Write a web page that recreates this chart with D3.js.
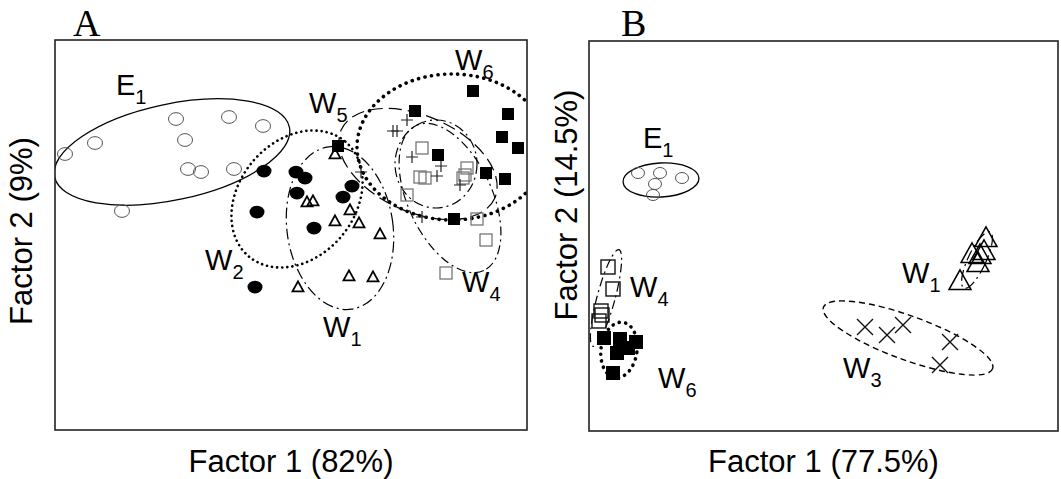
<!DOCTYPE html>
<html>
<head>
<meta charset="utf-8">
<script src="https://cdn.jsdelivr.net/npm/d3@7"></script>
<style>
body { margin: 0; background: #fff; }
text { font-family: "Liberation Sans", Arial, Helvetica, sans-serif; fill: #000; }
</style>
</head>
<body>
<div id="chart"></div>
<script>
// factor scores, arbitrary units (x right, y up)

// ---- Panel A ----
const aE1 = [[10,276],[40,287],[121,311],[174,313],[208,304],[130,290],[133,261],[146,258],[179,261],[67,219]];
const aW2 = [[209,259],[241,258],[250,252],[242,237],[202,218],[259,202],[297,244],[288,233],[200,143]];
const aW1 = [[280,275],[252,227],[258,228],[295,219],[280,208],[304,206],[325,195],[294,153],[318,152],[243,142]];
const aW6 = [[418,339],[453,316],[447,293],[463,282],[383,275],[431,257],[450,251],[399,211],[360,319],[283,284]];
const aW4 = [[367,282],[365,253],[370,252],[352,235],[412,262],[410,255],[408,252],[422,211],[431,190],[391,157]];
const aW5 = [[352,310],[338,299],[342,299],[357,273],[386,264],[382,254],[405,245],[367,213],[306,258]];

// confidence ellipses: centre, semi-axes, angle (deg, counter-clockwise)
const aEllipses = [
  {name: "E1", cx: 117, cy: 278, rx: 120, ry: 48, angle: 12},
  {name: "W2", cx: 242, cy: 231, rx: 75, ry: 58, angle: 50},
  {name: "W1", cx: 285, cy: 202, rx: 53, ry: 82, angle: 8},
  {name: "W5", cx: 363, cy: 266, rx: 84, ry: 48, angle: -24},
  {name: "W4", cx: 395, cy: 232, rx: 80, ry: 42, angle: -65},
  {name: "W4b", cx: 381, cy: 266, rx: 41, ry: 44, angle: 0},
  {name: "W6", cx: 397, cy: 283, rx: 95, ry: 73, angle: 0}
];
const aLabels = [
  {main: "E", sub: "1", x: 61, y: 335},
  {main: "W", sub: "5", x: 254, y: 317},
  {main: "W", sub: "6", x: 400, y: 360},
  {main: "W", sub: "2", x: 150, y: 160},
  {main: "W", sub: "1", x: 268, y: 93},
  {main: "W", sub: "4", x: 407, y: 138}
];

// ---- Panel B ----
const bE1 = [[49,258],[71,258],[66,247],[93,253],[64,236]];
const bW4 = [[19,164],[24,142],[12,120],[13,116],[10,110]];
const bW6 = [[15,93],[31,92],[47,89],[39,83],[28,78],[24,58]];
const bW1 = [[397,191],[383,175],[391,174],[389,166],[395,178],[371,148]];
const bW3 = [[276,104],[298,96],[314,106],[361,89],[351,66]];

const bEllipses = [
  {name: "E1", cx: 72, cy: 251, rx: 38, ry: 17, angle: 3},
  {name: "W4", cx: 17, cy: 133, rx: 9, ry: 50, angle: -15},
  {name: "W6", cx: 30, cy: 81, rx: 18, ry: 28, angle: -8},
  {name: "W1", cx: 388, cy: 171, rx: 9, ry: 31, angle: -25},
  {name: "W3", cx: 319, cy: 93, rx: 90, ry: 22, angle: -20}
];
const bLabels = [
  {main: "E", sub: "1", x: 54, y: 283},
  {main: "W", sub: "4", x: 41, y: 134},
  {main: "W", sub: "6", x: 69, y: 43},
  {main: "W", sub: "3", x: 254, y: 53},
  {main: "W", sub: "1", x: 313, y: 148}
];

const lineStyle = {
  E1:  {dash: null, width: 1.3, cap: "butt"},
  W1:  {dash: "11,4,2,4", width: 1.2, cap: "butt"},
  W2:  {dash: "0.1,5", width: 2.6, cap: "round"},
  W3:  {dash: "6,4", width: 1.4, cap: "butt"},
  W4:  {dash: "9,4,2,4", width: 1.2, cap: "butt"},
  W4b: {dash: "10,4,2,4", width: 1.2, cap: "butt"},
  W5:  {dash: "13,6", width: 1.2, cap: "butt"},
  W6:  {dash: "0.1,6.5", width: 3.6, cap: "round"}
};

const svg = d3.select("#chart").append("svg")
  .attr("width", 1061)
  .attr("height", 479);

function makePanel(id, box, letter, xTitle, yTitle) {
  const x = d3.scaleLinear().domain([0, box.x1 - box.x0]).range([box.x0, box.x1]);
  const y = d3.scaleLinear().domain([0, box.y1 - box.y0]).range([box.y1, box.y0]);

  svg.append("clipPath").attr("id", "clip" + id)
    .append("rect")
    .attr("x", box.x0).attr("y", box.y0)
    .attr("width", box.x1 - box.x0).attr("height", box.y1 - box.y0);

  const g = svg.append("g").attr("clip-path", "url(#clip" + id + ")");

  // panel letter
  svg.append("text")
    .attr("x", box.letterX).attr("y", 36)
    .style("font-family", "'Liberation Serif', 'Times New Roman', serif")
    .style("font-size", "38px")
    .text(letter);

  svg.append("text")
    .attr("x", (box.x0 + box.x1) / 2).attr("y", 472)
    .attr("text-anchor", "middle")
    .style("font-size", "31px")
    .text(xTitle);

  svg.append("text")
    .attr("transform", `translate(${box.yTitleX},${box.yTitleY}) rotate(-90)`)
    .attr("text-anchor", "middle")
    .style("font-size", "31px")
    .text(yTitle);

  return {x, y, g, box};
}

function drawEllipses(p, list) {
  const k = p.x(1) - p.x(0);
  p.g.append("g").selectAll("ellipse")
    .data(list)
    .join("ellipse")
    .attr("transform", d => `translate(${p.x(d.cx)},${p.y(d.cy)}) rotate(${-d.angle})`)
    .attr("rx", d => d.rx * k)
    .attr("ry", d => d.ry * k)
    .attr("fill", "none")
    .attr("stroke", "#000")
    .attr("stroke-width", d => lineStyle[d.name].width)
    .attr("stroke-dasharray", d => lineStyle[d.name].dash)
    .attr("stroke-linecap", d => lineStyle[d.name].cap);
}

function drawPoints(p, pts, kind, s) {
  const gs = p.g.append("g").selectAll("g")
    .data(pts)
    .join("g")
    .attr("transform", d => `translate(${p.x(d[0])},${p.y(d[1])})`);

  if (kind === "circleOpen" || kind === "circleFilled") {
    gs.append("ellipse")
      .attr("rx", s).attr("ry", s * 0.85)
      .attr("fill", kind === "circleFilled" ? "#000" : "#fff")
      .attr("fill-opacity", kind === "circleFilled" ? 1 : 0)
      .attr("stroke", kind === "circleFilled" ? "none" : "#555")
      .attr("stroke-width", 1);
  } else if (kind === "triangle") {
    const h = s * 0.9;
    gs.append("path")
      .attr("d", `M0,${-h * 2 / 3}L${s / 2},${h / 3}L${-s / 2},${h / 3}Z`)
      .attr("fill", "none")
      .attr("stroke", "#000")
      .attr("stroke-width", s > 14 ? 1.5 : 1.8);
  } else if (kind === "squareFilled") {
    gs.append("rect")
      .attr("x", -s / 2).attr("y", -s / 2)
      .attr("width", s).attr("height", s)
      .attr("fill", "#000");
  } else if (kind === "squareGrey" || kind === "squareOpen") {
    gs.append("rect")
      .attr("x", -s / 2).attr("y", -s / 2)
      .attr("width", s).attr("height", s)
      .attr("fill", "none")
      .attr("stroke", kind === "squareGrey" ? "#777" : "#111")
      .attr("stroke-width", kind === "squareGrey" ? 1.3 : 1.4);
  } else if (kind === "plus") {
    gs.append("path")
      .attr("d", `M${-s / 2},0H${s / 2}M0,${-s / 2}V${s / 2}`)
      .attr("stroke", "#222").attr("stroke-width", 1.2);
  } else if (kind === "times") {
    gs.append("path")
      .attr("d", `M${-s / 2},${-s / 2}L${s / 2},${s / 2}M${-s / 2},${s / 2}L${s / 2},${-s / 2}`)
      .attr("stroke", "#111").attr("stroke-width", 1.4);
  }
}

function drawLabels(p, list) {
  const t = svg.append("g").selectAll("text")
    .data(list)
    .join("text")
    .attr("x", d => p.x(d.x))
    .attr("y", d => p.y(d.y))
    .style("font-size", "29px")
    .text(d => d.main);
  t.append("tspan")
    .attr("dy", 9)
    .style("font-size", "20px")
    .text(d => d.sub);
}

function drawFrame(p) {
  svg.append("rect")
    .attr("x", p.box.x0).attr("y", p.box.y0)
    .attr("width", p.box.x1 - p.box.x0)
    .attr("height", p.box.y1 - p.box.y0)
    .attr("fill", "none")
    .attr("stroke", "#222")
    .attr("stroke-width", 1.6);
}

// ---- Panel A ----
const pA = makePanel("A", {x0: 55, x1: 527, y0: 40, y1: 430, letterX: 73, yTitleX: 32, yTitleY: 231},
  "A", "Factor 1 (82%)", "Factor 2 (9%)");
drawEllipses(pA, aEllipses);
drawPoints(pA, aE1, "circleOpen", 7.5);
drawPoints(pA, aW2, "circleFilled", 7.5);
drawPoints(pA, aW1, "triangle", 11);
drawPoints(pA, aW4, "squareGrey", 12);
drawPoints(pA, aW5, "plus", 12);
drawPoints(pA, aW6, "squareFilled", 12);
drawFrame(pA);
drawLabels(pA, aLabels);

// ---- Panel B ----
const pB = makePanel("B", {x0: 589, x1: 1058, y0: 41, y1: 431, letterX: 621, yTitleX: 577, yTitleY: 205},
  "B", "Factor 1 (77.5%)", "Factor 2 (14.5%)");
drawEllipses(pB, bEllipses);
drawPoints(pB, bE1, "circleOpen", 6.5);
drawPoints(pB, bW4, "squareOpen", 14);
drawPoints(pB, bW6, "squareFilled", 14);
drawPoints(pB, bW1, "triangle", 22);
drawPoints(pB, bW3, "times", 16);
drawFrame(pB);
drawLabels(pB, bLabels);
</script>
</body>
</html>
